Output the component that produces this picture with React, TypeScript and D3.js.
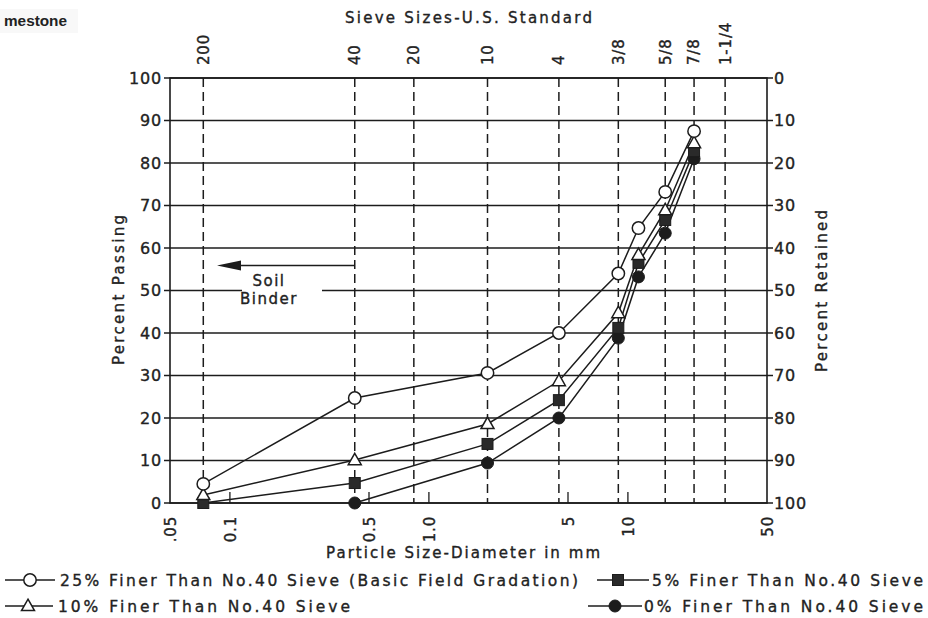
import React from "react";
import * as d3 from "d3";

// Sieve openings (mm) and their U.S. Standard designations
const sieveLabels = ["200", "40", "20", "10", "4", "3/8", "5/8", "7/8", "1-1/4"];
const sieveMm = [0.0735, 0.424, 0.84, 1.97, 4.5, 8.95, 15.4, 21.5, 30.8];

// Particle diameter axis labels (mm)
const diameterTicks = [0.05, 0.1, 0.5, 1.0, 5, 10, 50];
const diameterTickText = [".05", "0.1", "0.5", "1.0", "5", "10", "50"];
const minorTicks = [0.1, 0.5, 1.0, 5, 10];

const percentTicks = [0, 10, 20, 30, 40, 50, 60, 70, 80, 90, 100];

// Gradation test points
const particleMm = [0.0735, 0.424, 1.97, 4.5, 8.95, 11.3, 15.4, 21.5];
const passing25 = [4.5, 24.7, 30.6, 40, 54, 64.7, 73.2, 87.5];
const passing10 = [1.9, 10.1, 18.6, 28.7, 44.7, 58.4, 68.9, 84.7];
const passing5 = [0, 4.7, 13.9, 24.2, 41.2, 56.5, 66.6, 82.8];
const passing0 = [null, 0, 9.4, 20, 38.8, 53.2, 63.5, 81];

const seriesNames = [
  "25% Finer Than No.40 Sieve (Basic Field Gradation)",
  "10% Finer Than No.40 Sieve",
  "5% Finer Than No.40 Sieve",
  "0% Finer Than No.40 Sieve",
];
const seriesMarkers = ["openCircle", "openTriangle", "square", "filledCircle"];

const INK = "#1c1c1c";
const FONT = "'DejaVu Sans', sans-serif";

function Marker({ kind, cx, cy }: { kind: string; cx: number; cy: number }) {
  if (kind === "openCircle")
    return <circle cx={cx} cy={cy} r={6.2} fill="#fff" stroke={INK} strokeWidth={1.5} />;
  if (kind === "filledCircle")
    return <circle cx={cx} cy={cy} r={6} fill={INK} stroke={INK} strokeWidth={1} />;
  if (kind === "square")
    return <rect x={cx - 5.5} y={cy - 5.5} width={11} height={11} fill="#2a2a2a" stroke={INK} strokeWidth={1} />;
  const h = 11;
  const pts = `${cx},${cy - h * 0.62} ${cx + 6.5},${cy + h * 0.42} ${cx - 6.5},${cy + h * 0.42}`;
  return <polygon points={pts} fill="#fff" stroke={INK} strokeWidth={1.5} />;
}

export default function App() {
  const left = 170;
  const right = 767;
  const top = 78;
  const bottom = 503;

  const x = d3.scaleLog().domain([0.05, 50]).range([left, right]);
  const y = d3.scaleLinear().domain([0, 100]).range([bottom, top]);
  const yRet = d3.scaleLinear().domain([100, 0]).range([bottom, top]);

  const allSeries = [passing25, passing10, passing5, passing0];
  const line = d3
    .line<[number, number | null]>()
    .defined((d) => d[1] !== null)
    .x((d) => x(d[0]))
    .y((d) => y(d[1] as number));

  const textStyle = { fontFamily: FONT, fill: "#222", stroke: "#222", strokeWidth: 0.35 } as const;

  // Legend layout
  const legendItems = [
    { row: 0, lx: 5, lw: 50, mx: 30, tx: 60, tw: 518 },
    { row: 1, lx: 5, lw: 48, mx: 28, tx: 58, tw: 292 },
    { row: 0, lx: 597, lw: 52, mx: 618, tx: 652, tw: 271 },
    { row: 1, lx: 588, lw: 54, mx: 615, tx: 644, tw: 279 },
  ];

  const soilY = y(50);

  return (
    <svg
      width={928}
      height={618}
      style={{ position: "absolute", left: 0, top: 0, background: "#fff" }}
    >
      <rect x={0} y={0} width={928} height={618} fill="#fff" />
      <rect x={0} y={9} width={78} height={24} fill="#f8f8f8" />
      <text x={4} y={26} style={{ fontFamily: "'Liberation Sans', sans-serif", fontWeight: 700, fill: "#222" }} fontSize={15} textLength={63} lengthAdjust="spacingAndGlyphs">
        mestone
      </text>

      {/* horizontal grid */}
      {percentTicks.map((p) => {
        if (p === 50) {
          return (
            <g key={p}>
              <line x1={left - 6} x2={242} y1={y(p)} y2={y(p)} stroke={INK} strokeWidth={1.3} />
              <line x1={322} x2={right + 6} y1={y(p)} y2={y(p)} stroke={INK} strokeWidth={1.3} />
            </g>
          );
        }
        return (
          <line key={p} x1={left - 6} x2={right + 6} y1={y(p)} y2={y(p)} stroke={INK} strokeWidth={1.3} />
        );
      })}

      {/* sieve dashed lines */}
      {sieveMm.map((d, i) => (
        <line
          key={sieveLabels[i]}
          x1={x(d)}
          x2={x(d)}
          y1={top}
          y2={bottom}
          stroke={INK}
          strokeWidth={1.5}
          strokeDasharray="9,5"
        />
      ))}

      {/* minor diameter ticks */}
      {minorTicks.map((d) => (
        <line key={d} x1={x(d)} x2={x(d)} y1={bottom} y2={bottom - 11} stroke={INK} strokeWidth={1.3} />
      ))}

      {/* frame */}
      <rect x={left} y={top} width={right - left} height={bottom - top} fill="none" stroke={INK} strokeWidth={1.6} />

      {/* left axis labels */}
      {percentTicks.map((p) => (
        <text key={p} x={162} y={y(p)} dy="0.36em" textAnchor="end" fontSize={16} letterSpacing={0.8} style={textStyle}>
          {p}
        </text>
      ))}
      {/* right axis labels */}
      {percentTicks.map((p) => (
        <text key={p} x={774} y={yRet(p)} dy="0.36em" textAnchor="start" fontSize={16} letterSpacing={0.8} style={textStyle}>
          {p}
        </text>
      ))}

      {/* top sieve labels */}
      {sieveMm.map((d, i) => (
        <text
          key={sieveLabels[i]}
          transform={`translate(${x(d)},${65}) rotate(-90)`}
          dy="0.36em"
          textAnchor="start"
          fontSize={15}
          letterSpacing={0.8}
          style={textStyle}
        >
          {sieveLabels[i]}
        </text>
      ))}

      {/* bottom diameter labels */}
      {diameterTicks.map((d, i) => (
        <text
          key={d}
          transform={`translate(${x(d) + 1},${516}) rotate(-90)`}
          dy="0.36em"
          textAnchor="end"
          fontSize={15}
          letterSpacing={0.8}
          style={textStyle}
        >
          {diameterTickText[i]}
        </text>
      ))}

      {/* titles */}
      <text x={345} y={23} fontSize={15} textLength={247} lengthAdjust="spacing" style={textStyle}>
        Sieve Sizes-U.S. Standard
      </text>
      <text x={326} y={558} fontSize={15} textLength={274} lengthAdjust="spacing" style={textStyle}>
        Particle Size-Diameter in mm
      </text>
      <text transform={`translate(124,365) rotate(-90)`} fontSize={15} textLength={150} lengthAdjust="spacing" style={textStyle}>
        Percent Passing
      </text>
      <text transform={`translate(827,372) rotate(-90)`} fontSize={15} textLength={162} lengthAdjust="spacing" style={textStyle}>
        Percent Retained
      </text>

      {/* soil binder annotation */}
      <line x1={238} x2={x(sieveMm[1])} y1={soilY - 25} y2={soilY - 25} stroke={INK} strokeWidth={1.5} />
      <polygon
        points={`${217},${soilY - 25} ${241},${soilY - 30} ${241},${soilY - 20}`}
        fill={INK}
      />
      <text x={269} y={soilY - 5} textAnchor="middle" fontSize={15} letterSpacing={1.5} style={textStyle}>
        Soil
      </text>
      <text x={269} y={soilY + 13} textAnchor="middle" fontSize={15} letterSpacing={1.5} style={textStyle}>
        Binder
      </text>

      {/* gradation curves */}
      {allSeries.map((vals, si) => {
        const pts = particleMm.map((d, i) => [d, vals[i]] as [number, number | null]);
        return (
          <path key={si} d={line(pts) || ""} fill="none" stroke={INK} strokeWidth={1.5} />
        );
      })}
      {allSeries
        .map((vals, si) => ({ vals, si }))
        .reverse()
        .map(({ vals, si }) => (
          <g key={si}>
            {particleMm.map((d, i) =>
              vals[i] === null ? null : (
                <Marker key={i} kind={seriesMarkers[si]} cx={x(d)} cy={y(vals[i] as number)} />
              )
            )}
          </g>
        ))}

      {/* legend */}
      {legendItems.map((it, i) => {
        const ly = it.row === 0 ? 580 : 606;
        return (
          <g key={i}>
            <line x1={it.lx} x2={it.lx + it.lw} y1={ly} y2={ly} stroke={INK} strokeWidth={1.6} />
            <Marker kind={seriesMarkers[i]} cx={it.mx} cy={ly} />
            <text x={it.tx} y={ly + 5.5} fontSize={15.5} textLength={it.tw} lengthAdjust="spacing" style={textStyle}>
              {seriesNames[i]}
            </text>
          </g>
        );
      })}
    </svg>
  );
}
